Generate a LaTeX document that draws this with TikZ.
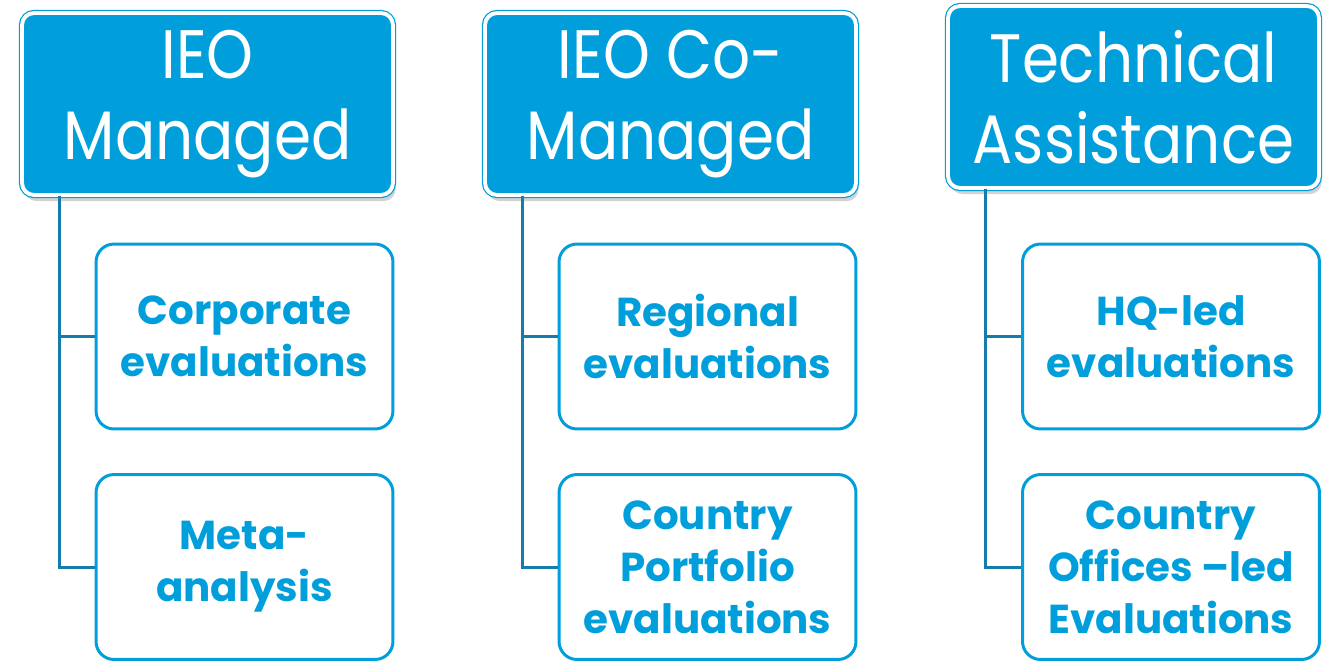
\documentclass[tikz,border=0pt]{standalone}
\usepackage{fontspec}
\setmainfont{Poppins}
\newfontfamily\hdfont[FakeStretch=0.87]{Poppins}
\usepackage{tikz}
\usetikzlibrary{positioning,shadows}

\definecolor{hdblue}{RGB}{0,159,219}
\definecolor{linkblue}{RGB}{22,124,174}

\tikzset{
  header/.style={rectangle, rounded corners=0.24cm, fill=hdblue, text=white,
    draw=hdblue, double=white, double distance=2.2pt, line width=0.7pt,
    drop shadow={shadow xshift=1.5pt, shadow yshift=-3.5pt, opacity=0.35},
    minimum width=7.42cm, minimum height=3.64cm, inner sep=0pt, align=center,
    font=\hdfont\fontsize{39}{46}\selectfont},
  child/.style={rectangle, rounded corners=0.36cm, draw=hdblue, line width=1.7pt,
    fill=white, text=hdblue, minimum width=5.94cm, minimum height=3.7cm,
    align=center, font=\fontsize{23}{29.5}\selectfont\bfseries},
  link/.style={draw=linkblue, line width=1.7pt}
}

\begin{document}
\begin{tikzpicture}[x=0.02cm, y=-0.02cm]
  \useasboundingbox (0,0) rectangle (1332,660);

  % Header boxes
  \node[header] (h1) at (207.5,104) {IEO\\Managed};
  \node[header] (h2) at (670.5,104) {IEO Co-\\Managed};
  \node[header] (h3) at (1133.5,97) {Technical\\Assistance};

  % Sub boxes
  \node[child] (c1a) at (244.5,336.5) {Corporate\\evaluations};
  \node[child] (c1b) at (244.5,567) {Meta-\\analysis};
  \node[child] (c2a) at (707.5,336.5) {Regional\\evaluations};
  \node[child] (c2b) at (707.5,567) {Country\\Portfolio\\evaluations};
  \node[child] (c3a) at (1171,336.5) {HQ-led\\evaluations};
  \node[child] (c3b) at (1171,567) {Country\\Offices –led\\Evaluations};

  % Links
  \draw[link] ([xshift=0.76cm]h1.south west) |- (c1a.west);
  \draw[link] ([xshift=0.76cm]h1.south west) |- (c1b.west);
  \draw[link] ([xshift=0.76cm]h2.south west) |- (c2a.west);
  \draw[link] ([xshift=0.76cm]h2.south west) |- (c2b.west);
  \draw[link] ([xshift=0.76cm]h3.south west) |- (c3a.west);
  \draw[link] ([xshift=0.76cm]h3.south west) |- (c3b.west);

\end{tikzpicture}
\end{document}
